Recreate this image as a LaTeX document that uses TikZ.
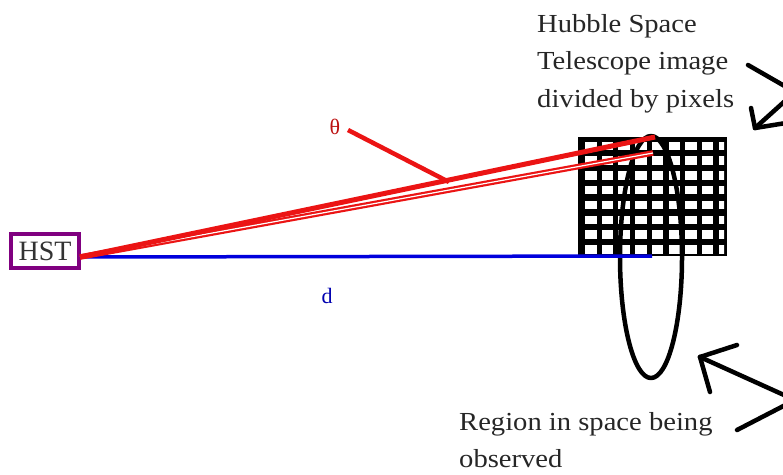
\documentclass[tikz,border=0pt]{standalone}
\usepackage{fontspec}
\setmainfont{Liberation Serif}
\newfontfamily\lblfont[FakeStretch=1.1]{Liberation Serif}
\usetikzlibrary{arrows.meta}
\definecolor{hstpurple}{RGB}{128,0,128}
\definecolor{beamred}{RGB}{235,20,20}
\definecolor{dblue}{RGB}{0,0,220}
\tikzset{
  lbl/.style={font=\lblfont\fontsize{26}{37.5}\selectfont, align=left, inner sep=0pt, text=black!85},
  hand/.style={line width=4.5pt, black, line cap=round, line join=round},
}
\begin{document}
\begin{tikzpicture}[x=1pt,y=-1pt]
\useasboundingbox (0,0) rectangle (783,474);
% grid image
\fill[black] (578,137) rectangle (727,256);
\begin{scope}
\clip (578,137) rectangle (724,256);
\foreach \i in {0,...,8}{
  \foreach \j in {0,...,7}{
    \fill[white] ({585+\i*16.7},{141.5+\j*14.8}) rectangle ({585+\i*16.7+11.5},{141.5+\j*14.8+8.5});
  }
}
\end{scope}
% region ellipse
\draw[hand] (651,257) ellipse [x radius=31, y radius=121];
% HST box
\node[draw=hstpurple, line width=4pt, inner sep=0pt, font=\fontsize{28}{28}\selectfont, text=black!80, minimum width=68pt, minimum height=34pt] (hst) at (45,251) {HST};
\coordinate (hstR) at (80,257);
\coordinate (far) at (652,256);
\coordinate (top) at (655,137);
\coordinate (low) at (653,153);
% distance line
\draw[dblue, line width=3.5pt] (hstR) -- (far);
% beams
\draw[beamred, line width=2.2pt, double=white, double distance=1.2pt] (hstR) -- (low);
\draw[beamred, line width=5pt] (hstR) -- (top);
% theta label
\node[beamred!80!black, font=\fontsize{22}{22}\selectfont, inner sep=0pt] (theta) at (335,127) {θ};
\coordinate (thpt) at (449,182);
\draw[beamred, line width=4.5pt] (348,130) -- (thpt);
% d
\node[dblue!80!black, font=\fontsize{22}{22}\selectfont, inner sep=0pt] (d) at (327,296) {d};
% labels
\node[lbl, anchor=base west] (hubble) at (537,32) {Hubble Space};
\node[lbl, anchor=base west] (hubble2) at (537,69.5) {Telescope image};
\node[lbl, anchor=base west] (hubble3) at (537,107) {divided by pixels};
\node[lbl, anchor=base west] (region) at (459,430) {Region in space being};
\node[lbl, anchor=base west] (region2) at (459,467) {observed};
% hand arrows
\coordinate (a1s) at (748,65);
\coordinate (a1m) at (795,92);
\coordinate (a1e) at (755,128);
\draw[hand] (a1s) -- (a1m) -- (a1e);
\draw[hand] (a1e) -- (751,108);
\draw[hand] (a1e) -- (786,123);
\coordinate (a2s) at (737,430);
\coordinate (a2m) at (795,400);
\coordinate (a2e) at (700,357);
\draw[hand] (a2s) -- (a2m) -- (a2e);
\draw[hand] (a2e) -- (737,345);
\draw[hand] (a2e) -- (710,392);
\end{tikzpicture}
\end{document}
